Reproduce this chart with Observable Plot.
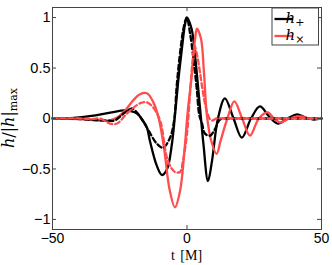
<!DOCTYPE html>
<html>
<head>
<meta charset="utf-8">
<script src="https://cdn.jsdelivr.net/npm/d3@7"></script>
<script src="https://cdn.jsdelivr.net/npm/@observablehq/plot@0.6"></script>
<style>
  html, body { margin: 0; padding: 0; background: #fff; }
  #chart svg { display: block; }
</style>
</head>
<body>
<div id="chart"></div>
<script>
// ---- data ----
const xTicks = [-50, 0, 50];
const yTicks = [-1, -0.5, 0, 0.5, 1];
const legendLabels = ["+", "×"];

// h_+ (solid black)
const tPlus = [-50,-42,-34,-28,-23,-18.6,-16.4,-14.9,-13.8,-11.2,-9.3,-7.4,-5.6,-4.4,-3.3,-1.9,-0.7,0,1.7,3.0,4.2,5.1,6.1,7.8,9.3,11.5,14.1,17.3,20.4,23.8,27.1,30.5,33.8,37.4,40.9,44,47,50];
const hPlus = [0,0.005,0.03,0.06,0.08,0.05,-0.02,-0.09,-0.22,-0.47,-0.56,-0.5,-0.25,0.05,0.36,0.69,0.94,1.0,0.89,0.62,0.29,0.03,-0.25,-0.62,-0.42,0,0.2,0,-0.19,0,0.12,0.02,-0.05,0,0.04,0.01,-0.01,0];

// h_x (solid red)
const tCross = [-50,-40,-33,-29,-26,-23,-20,-17.5,-14.9,-12.5,-10.5,-8.5,-6.5,-4.5,-2.6,-0.8,0.2,1.9,3.0,3.7,5.2,6.3,7.4,9,11,12.5,15,17.6,20.5,23.4,26.7,30,32.3,34.6,38,42,46,50];
const hCross = [0,-0.005,-0.02,-0.02,0.01,0.08,0.18,0.24,0.25,0.16,0.0,-0.3,-0.7,-0.88,-0.72,-0.27,0.05,0.46,0.79,0.89,0.79,0.46,0.03,-0.22,-0.35,-0.22,0,0.17,0,-0.17,0,0.06,0,-0.04,0,0.02,0,0];

// h_+ model (dashed black)
const tPlusD = [-50,-40,-34,-30,-27,-24,-22,-20.4,-18.6,-17,-14.7,-11.2,-8.9,-6.3,-4.8,-3.8,-2.4,-1.1,-0.1,1.1,2.4,3.6,4.6,5.6,6.7,8.6,10.5,12.3,16,20,30,40,50];
const hPlusD = [0,-0.005,-0.015,-0.02,-0.02,0.04,0.08,0.1,0.06,0,-0.1,-0.25,-0.29,-0.19,-0.02,0.33,0.69,0.92,1.0,0.85,0.59,0.3,0.03,-0.05,-0.15,-0.17,-0.1,-0.01,0,0,0,0,0];

// h_x model (dashed red)
const tCrossD = [-50,-40,-35,-32.3,-28.6,-26,-22.3,-17.5,-14.9,-12.6,-10,-7.1,-4.5,-2.6,-1.5,0,1.0,2.0,2.8,3.8,4.8,6.0,7.5,9,11,15,20,30,40,50];
const hCrossD = [0,0,-0.005,0,-0.05,-0.05,0.05,0.15,0.16,0.11,-0.02,-0.42,-0.53,-0.53,-0.42,-0.15,0.2,0.55,0.72,0.62,0.46,0.25,0.06,-0.02,0,0,0,0,0,0];

// ---- build tables ----
const mk = (ts, hs) => ts.map((t, i) => ({t, h: hs[i]}));
const plusSolid = mk(tPlus, hPlus);
const crossSolid = mk(tCross, hCross);
const plusDash = mk(tPlusD, hPlusD);
const crossDash = mk(tCrossD, hCrossD);

const black = "#000000";
const red = "#ff4d4d";
const axisColor = "#444444";
const fmt = d => (d < 0 ? "\u2212" + Math.abs(d) : String(d));

const W = 332, H = 265;
const mL = 52, mR = 11, mT = 7, mB = 36;
const fw = W - mL - mR, fh = H - mT - mB;
const tickLen = 4;
const lw = 2.3;

const svg = Plot.plot({
  width: W, height: H,
  marginLeft: mL, marginRight: mR, marginTop: mT, marginBottom: mB,
  style: {fontFamily: "'Liberation Sans', Arial, sans-serif", fontSize: "14px", color: "#000", background: "#fff"},
  x: {domain: [-50, 50]},
  y: {domain: [-1.1, 1.1]},
  marks: [
    Plot.line(plusSolid, {x: "t", y: "h", stroke: black, strokeWidth: lw, curve: "catmull-rom"}),
    Plot.line(crossSolid, {x: "t", y: "h", stroke: red, strokeWidth: lw, curve: "catmull-rom"}),
    Plot.line(plusDash, {x: "t", y: "h", stroke: black, strokeWidth: lw, strokeDasharray: "5,3", curve: "catmull-rom"}),
    Plot.line(crossDash, {x: "t", y: "h", stroke: red, strokeWidth: lw, strokeDasharray: "5,3", curve: "catmull-rom"}),
    Plot.frame({stroke: axisColor, strokeWidth: 1}),
    // inward ticks on all four sides
    Plot.ruleX(xTicks, {stroke: axisColor, insetTop: fh - tickLen}),
    Plot.ruleX(xTicks, {stroke: axisColor, insetBottom: fh - tickLen}),
    Plot.ruleY(yTicks, {stroke: axisColor, insetRight: fw - tickLen}),
    Plot.ruleY(yTicks, {stroke: axisColor, insetLeft: fw - tickLen}),
    Plot.axisX(xTicks, {tickSize: 0, tickPadding: 4, tickFormat: fmt, label: null, fontSize: 14}),
    Plot.axisY(yTicks, {tickSize: 0, tickPadding: 2, tickFormat: fmt, label: null, fontSize: 14.5})
  ]
});

const s = d3.select(svg);
const serif = "'DejaVu Serif', 'Liberation Serif', serif";

// x label
s.append("text")
  .attr("x", mL + fw / 2).attr("y", 260)
  .attr("text-anchor", "middle")
  .attr("font-family", "'Liberation Serif', serif").attr("font-size", 14).attr("fill", "#000")
  .attr("word-spacing", 2)
  .text("t [M]");

// y label
const yl = s.append("text")
  .attr("transform", `translate(14,${mT + fh / 2}) rotate(-90)`)
  .attr("text-anchor", "middle")
  .attr("font-family", serif).attr("font-size", 16).attr("fill", "#000");
yl.append("tspan").attr("font-style", "italic").text("h");
yl.append("tspan").text("/|");
yl.append("tspan").attr("font-style", "italic").text("h");
yl.append("tspan").text("|");
yl.append("tspan").attr("font-size", 11).attr("dy", 3).text("max");

// legend
const lg = s.append("g");
lg.append("rect").attr("x", 272).attr("y", 8).attr("width", 46.5).attr("height", 37)
  .attr("fill", "#fff").attr("stroke", axisColor).attr("stroke-width", 1);
const lcolors = [black, red];
legendLabels.forEach((lab, i) => {
  const y = 19 + i * 17;
  lg.append("line").attr("x1", 274.5).attr("x2", 293).attr("y1", y).attr("y2", y)
    .attr("stroke", lcolors[i]).attr("stroke-width", lw);
  const t = lg.append("text").attr("x", 295).attr("y", y + 4)
    .attr("font-family", serif).attr("font-size", 15).attr("fill", "#000");
  t.append("tspan").attr("font-style", "italic").text("h");
  t.append("tspan").attr("font-size", 11).attr("dy", 3).text(lab);
});

document.getElementById("chart").appendChild(svg);
</script>
</body>
</html>
